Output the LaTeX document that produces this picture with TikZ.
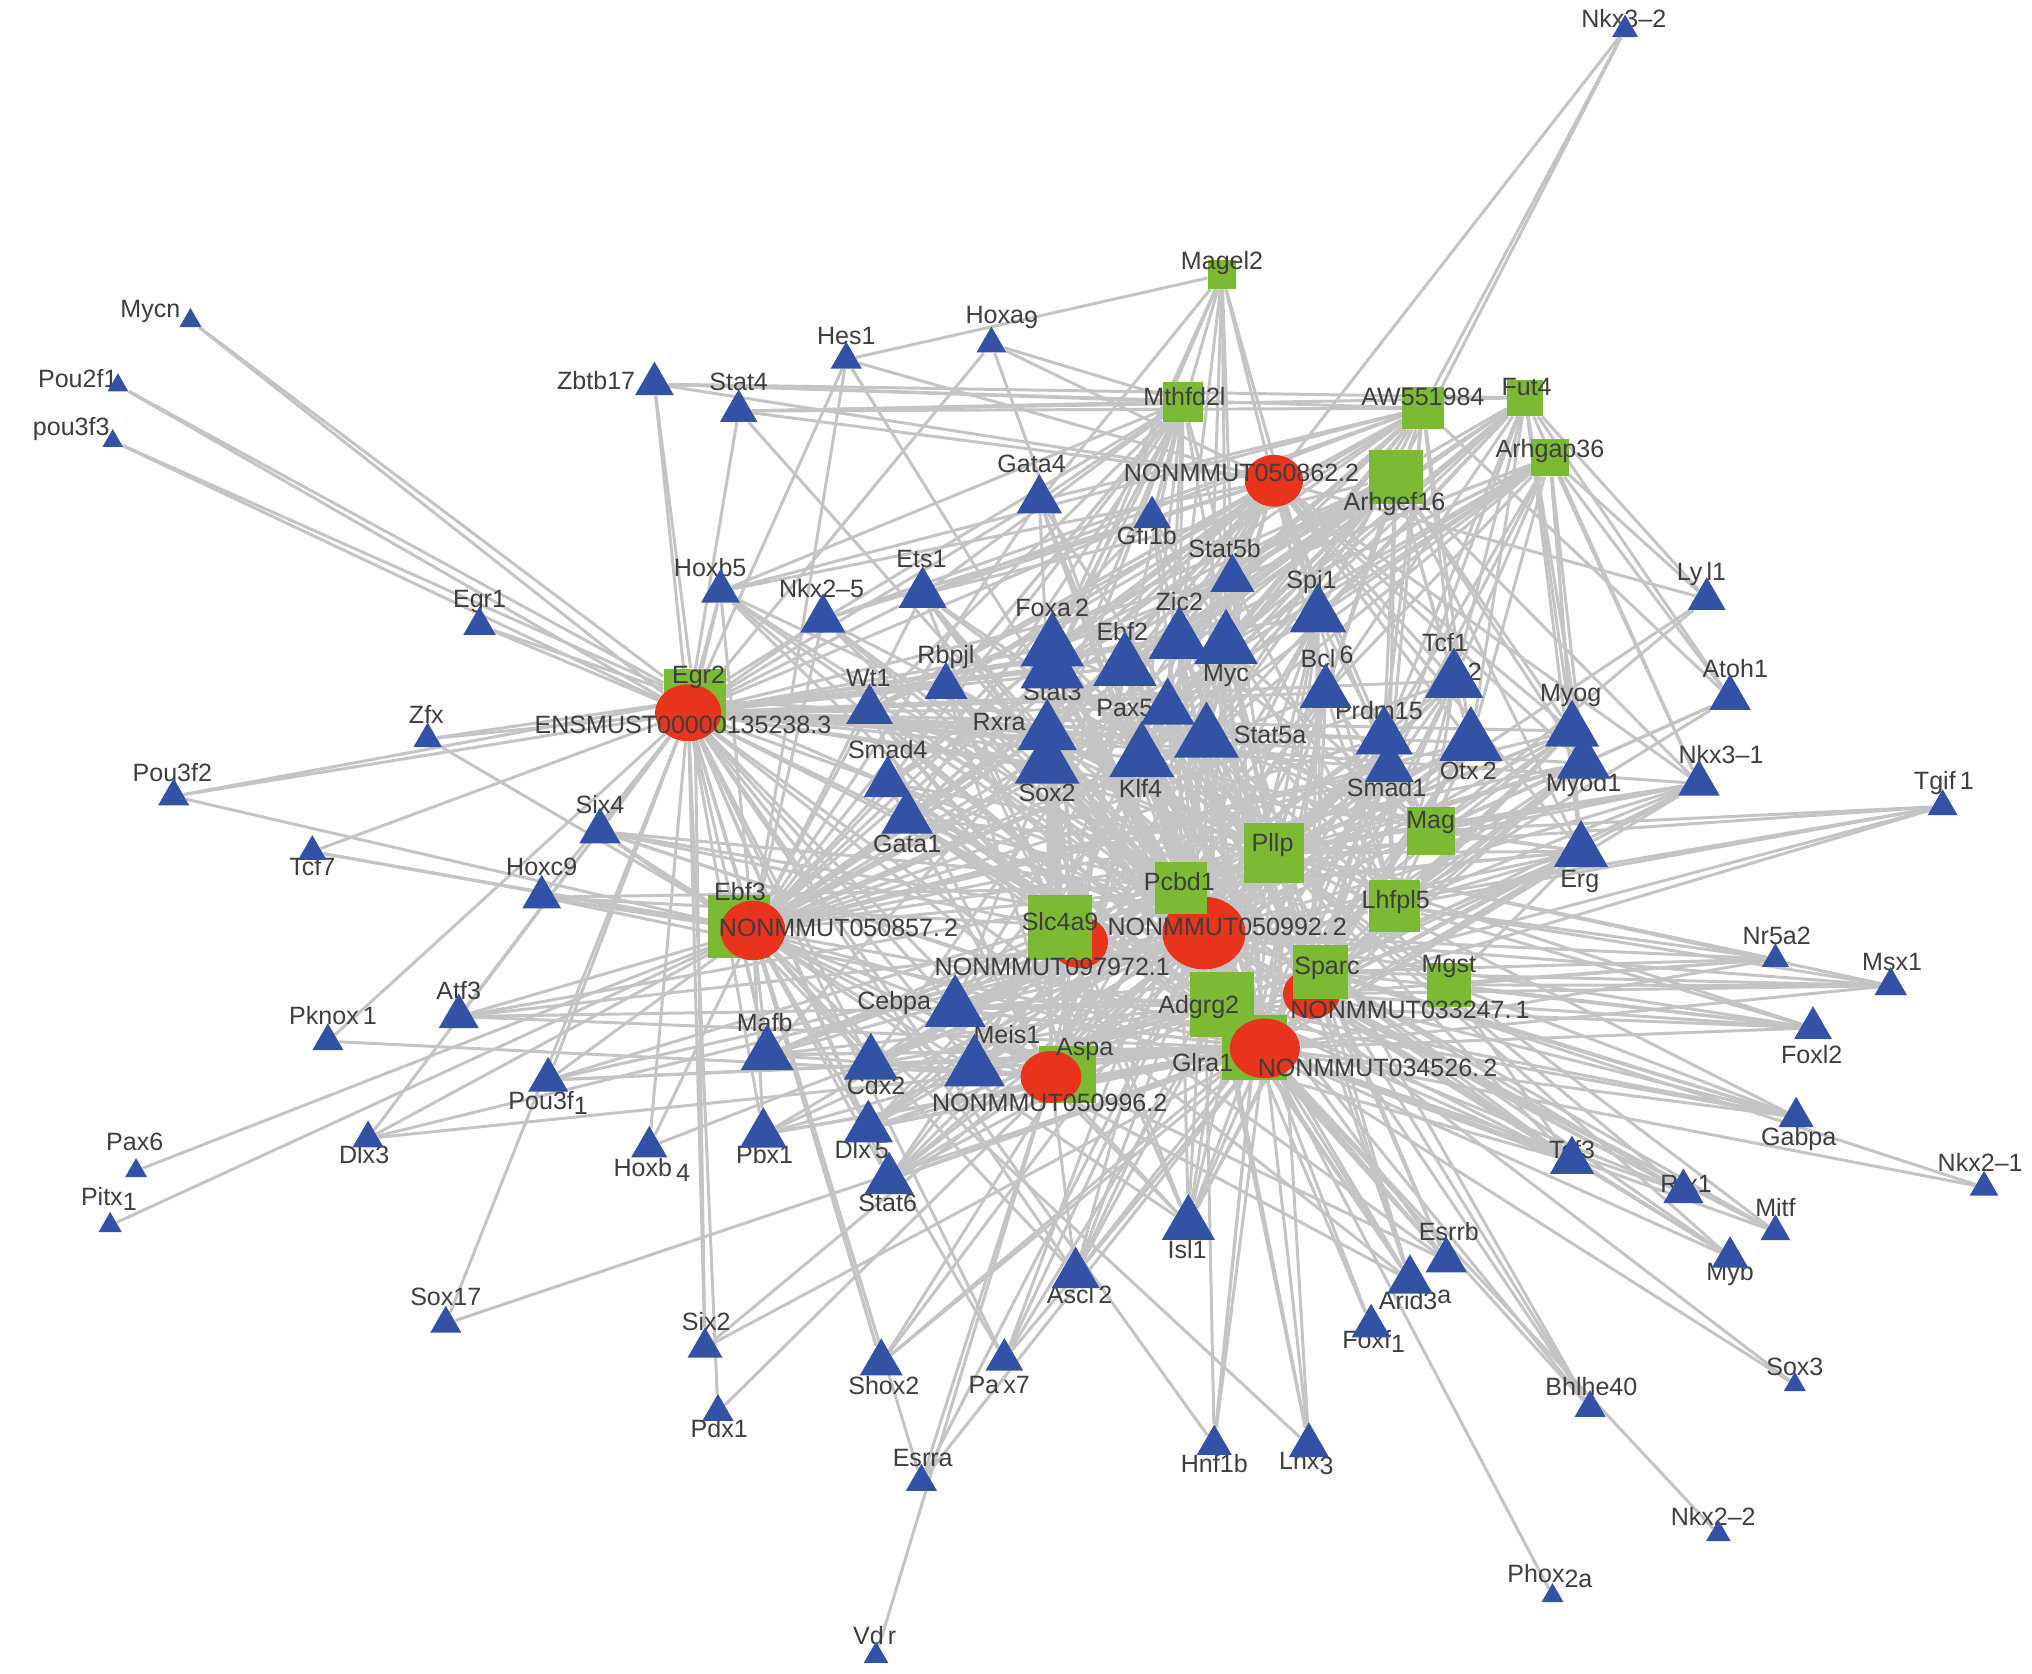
\documentclass[tikz,border=0pt]{standalone}
\usepackage{fontspec}
\setmainfont{Liberation Sans}
\usetikzlibrary{shapes.geometric}
\definecolor{tfblue}{RGB}{52,82,165}
\definecolor{mrnagreen}{RGB}{124,186,52}
\definecolor{lncred}{RGB}{232,52,28}
\definecolor{edgegray}{RGB}{196,196,196}
\definecolor{txtgray}{RGB}{62,62,62}
\newcommand{\lowr}[1]{\raisebox{-.35ex}{#1}}
\pgfdeclarelayer{edges}
\pgfsetlayers{edges,main}
\tikzset{
    tf/.style = {regular polygon, regular polygon sides=3, fill=tfblue,
        inner sep=0pt, minimum size=#1*0.0231cm, yshift=-#1*0.00288cm},
    mrna/.style = {rectangle, fill=mrnagreen, inner sep=0pt,
        minimum size=#1*0.02cm},
    lnc/.style 2 args = {ellipse, fill=lncred, inner sep=0pt,
        minimum width=#1*0.02cm, minimum height=#2*0.02cm},
    lbl/.style = {text=txtgray, inner sep=0pt,
        font=\fontsize{11}{13}\selectfont},
    link/.style = {draw=edgegray, line width=1.3pt}
}
\begin{document}
\begin{tikzpicture}[x=0.02cm, y=-0.02cm]
\useasboundingbox (0,0) rectangle (1568,1291);
% mRNA nodes lying under the lncRNA nodes
\node[mrna=48] (egr2) at (536,540) {};
\node[mrna=48] (ebf3) at (570,715) {};
\node[mrna=44] (aspa) at (824,829) {};
\node[mrna=50] (adgrg2) at (943,775) {};
\node[mrna=50] (glra1) at (968,808) {};
\node[mrna=22] (magel2) at (943,212) {};
\node[mrna=31] (mthfd2l) at (913,310) {};
\node[mrna=32] (aw551984) at (1098,315) {};
\node[mrna=28] (fut4) at (1177,307) {};
\node[mrna=29] (arhgap36) at (1196,353) {};
\node[mrna=42] (arhgef16) at (1077,368) {};
\node[mrna=37] (mag) at (1104,641) {};
\node[mrna=46] (pllp) at (983,658) {};
\node[mrna=40] (lhfpl5) at (1076,699) {};
\node[mrna=34] (mgst) at (1118,760) {};
% lncRNA nodes
\node[lnc={51}{44}] (ens) at (531,550) {};
\node[lnc={50}{46}] (n857) at (581,718) {};
\node[lnc={44}{40}] (n972) at (833,727) {};
\node[lnc={64}{56}] (n992) at (929,720) {};
\node[lnc={45}{40}] (n862) at (983,371) {};
\node[lnc={44}{38}] (n247) at (1012,767) {};
\node[lnc={54}{46}] (n526) at (976,809) {};
\node[lnc={47}{40}] (n996) at (811,831) {};
% mRNA nodes on top
\node[mrna=40] (pcbd1) at (911,685) {};
\node[mrna=50] (slc4a9) at (818,716) {};
\node[mrna=42] (sparc) at (1019,750) {};
% hub labels
\foreach \n/\x/\y/\t in {magel2/943/203/Magel2, mthfd2l/914/306/Mthfd2l,
    aw551984/1098/306/AW551984, fut4/1178/299/Fut4, arhgap36/1196/348/Arhgap36,
    arhgef16/1076/389/Arhgef16, egr2/539/523/Egr2, ebf3/571/688/Ebf3,
    mag/1104/635/Mag, pllp/982/652/Pllp, pcbd1/910/680/Pcbd1,
    lhfpl5/1077/696/Lhfpl5, slc4a9/818/711/Slc4a9, sparc/1024/747/Sparc,
    mgst/1118/746/Mgst, adgrg2/925/777/Adgrg2, glra1/928/820/Glra1,
    aspa/837/810/Aspa, ens/527/559/ENSMUST00000135238.3,
    n857/647/716/NONMMUT050857.\,2, n972/812/746/NONMMUT097972.1,
    n992/947/715/NONMMUT050992.\,2, n862/958/365/NONMMUT050862.2,
    n247/1088/779/NONMMUT033247.\,1, n526/1063/824/NONMMUT034526.\,2,
    n996/810/851/NONMMUT050996.2}
    \node[lbl] (\n-t) at (\x,\y) {\t};
% TF labels
\foreach \n/\x/\y/\t in {nkx32/1253/14/Nkx3--2, mycn/116/240/Mycn,
    hoxa9/773/245/Hoxa\lowr{9}, hes1/653/259/Hes1, pou2f1/60/292/Pou2f1,
    zbtb17/460/294/Zbtb17, stat4/570/295/Stat4, pou3f3/55/331/pou3f3,
    gata4/796/358/Gata4, gfi1b/885/413/Gfi1b, stat5b/945/423/Stat5b,
    hoxb5/548/438/Hoxb5, ets1/711/431/Ets1, nkx25/634/454/Nkx2--5,
    spi1/1012/449/Spi1, lyl1/1313/443/Ly\,l1, egr1/370/464/Egr1,
    foxa2/812/469/Foxa\,2, zic2/910/464/Zic2, ebf2/866/487/Ebf2,
    myc/946/521/Myc, stat3/812/534/Stat3, bcl6/1024/507/Bcl\,\raisebox{.3ex}{6},
    tcf12/1115/496/Tcf1, tcf12b/1138/518/2, rbpjl/730/507/Rbpjl,
    wt1/670/523/Wt1, atoh1/1339/516/Atoh1, myog/1212/537/Myog,
    zfx/329/551/Zfx, pax5/868/546/Pax5, rxra/771/557/Rxra,
    stat5a/980/567/Stat5a, prdm15/1064/548/Prdm15, otx2/1133/595/Otx\,2,
    smad1/1070/608/Smad1, myod1/1222/606/Myod1, nkx31/1328/582/Nkx3--1,
    sox2/808/612/Sox2, klf4/880/608/Klf4, smad4/685/578/Smad4,
    pou3f2/133/596/Pou3f2, tgif1/1500/604/Tgif\,1, six4/463/621/Six4,
    gata1/700/651/Gata1, erg/1219/680/Erg, tcf7/241/669/Tcf7,
    hoxc9/418/669/Hoxc9, nr5a2/1371/722/Nr5a2, msx1/1460/742/Msx1,
    cebpa/690/774/Cebpa, atf3/354/764/Atf3, pknox1/257/784/Pknox\,1,
    mafb/590/789/Mafb, foxl2/1398/814/Foxl2, meis1/777/798/Meis1,
    cdx2/676/838/Cdx2, pou3f1/423/851/Pou3f\lowr{1}, gabpa/1388/879/Gabpa,
    dlx3/281/891/Dlx3, pbx1/590/891/Pbx1, dlx5/665/887/Dlx\,5,
    hoxb4/503/903/Hoxb\,\lowr{4}, tcf3/1213/887/Tcf3, pax6/104/881/Pax6,
    stat6/685/928/Stat6, nkx21/1528/897/Nkx2--1, rfx1/1301/913/Rfx1,
    mitf/1370/932/Mitf, pitx1/84/925/Pitx\lowr{1}, isl1/916/964/Isl1,
    esrrb/1118/950/Esrrb, myb/1335/983/Myb, ascl2/833/999/Ascl\,2,
    arid3a/1092/1003/Arid3\raisebox{.5ex}{a}, foxf1/1060/1035/Foxf\lowr{1},
    sox17/344/1001/Sox17, six2/545/1020/Six2, shox2/682/1069/Shox2,
    pax7/771/1069/Pa\,x7, sox3/1385/1055/Sox3, bhlhe40/1228/1070/Bhlhe40,
    pdx1/555/1102/Pdx1, hnf1b/937/1129/Hnf1b, lhx3/1008/1129/Lhx\lowr{3},
    esrra/712/1125/Esrra, nkx22/1322/1170/Nkx2--2, phox2a/1196/1216/Phox\lowr{2a},
    vdr/675/1262/Vd\,r}
    \node[lbl] (\n-t) at (\x,\y) {\t};
% TF nodes
\foreach \n/\x/\y/\w in {nkx32/1254/20/20, mycn/147/245/17, hoxa9/765/262/23,
    hes1/653/274/24, pou2f1/91/295/16, zbtb17/505/292/30, stat4/570/313/29,
    pou3f3/87/338/16, gata4/802/381/35, gfi1b/889/395/29, stat5b/951/442/34,
    hoxb5/556/452/30, ets1/712/453/37, nkx25/635/473/35, spi1/1017/469/44,
    lyl1/1317/458/29, egr1/370/479/25, foxa2/812/493/49, zic2/910/488/47,
    ebf2/868/508/49, myc/946/491/49, stat3/812/510/49, bcl6/1023/529/40,
    tcf12/1122/519/45, rbpjl/730/525/33, wt1/671/543/36, atoh1/1335/534/32,
    myog/1213/558/42, zfx/330/567/22, pax5/901/541/42, rxra/808/559/46,
    stat5a/931/563/50, prdm15/1068/563/44, otx2/1135/566/49, smad1/1072/587/38,
    myod1/1222/583/41, nkx31/1311/600/32, sox2/808/583/50, klf4/881/578/50,
    smad4/685/599/37, pou3f2/134/611/24, tgif1/1499/619/23, six4/463/637/32,
    gata1/700/626/40, erg/1220/651/42, tcf7/241/654/22, hoxc9/418/688/30,
    nr5a2/1370/737/21, msx1/1459/757/25, cebpa/737/772/47, atf3/354/780/31,
    pknox1/253/800/24, mafb/592/808/41, foxl2/1399/789/29, meis1/752/818/47,
    cdx2/672/815/42, pou3f1/423/829/31, gabpa/1386/858/27, dlx3/284/875/24,
    pbx1/589/870/36, dlx5/670/865/38, hoxb4/501/881/28, tcf3/1213/891/34,
    pax6/105/901/17, stat6/686/905/38, nkx21/1531/913/22, rfx1/1299/915/31,
    mitf/1370/947/23, pitx1/85/943/18, isl1/917/939/41, esrrb/1116/968/32,
    myb/1335/966/28, ascl2/830/978/37, arid3a/1088/983/35, foxf1/1058/1019/30,
    sox17/344/1018/24, six2/544/1036/27, shox2/680/1047/33, pax7/775/1045/29,
    sox3/1385/1066/17, bhlhe40/1227/1083/24, pdx1/554/1086/24,
    hnf1b/937/1111/27, lhx3/1010/1111/31, esrra/711/1140/24,
    nkx22/1326/1181/19, phox2a/1198/1229/17, vdr/676/1275/19}
    \node[tf=\w] (\n) at (\x,\y) {};
% co-expression links
\begin{pgfonlayer}{edges}
\fill[white] (0,0) rectangle (1568,1291);
\foreach \a/\bs in {nkx32/{n862,aw551984,arhgef16}, mycn/{ens,egr2},
    pou2f1/{ens,egr2}, pou3f3/{ens,egr2}, egr1/{ens,egr2},
    zfx/{ens,egr2,n857}, pou3f2/{ens,egr2,n857}, tcf7/{ens,ebf3,n857},
    zbtb17/{ens,egr2,mthfd2l,aw551984,n862},
    stat4/{ens,mthfd2l,aw551984,n862,n992},
    hes1/{magel2,ens,n992,n857}, hoxa9/{ens,n992,n862,mthfd2l},
    gata4/{magel2,mthfd2l,ens,n992,n857,n526,pllp,pcbd1,slc4a9},
    gfi1b/{magel2,mthfd2l,n992,n526,pllp,ens,n857,lhfpl5},
    stat5b/{magel2,aw551984,arhgef16,n862,n992,n857,ens,pllp,pcbd1,lhfpl5,n526},
    hoxb5/{ens,egr2,n992,pllp,n972,n857,n526,pcbd1},
    nkx25/{ens,egr2,n862,aw551984,n992,adgrg2,pllp,pcbd1,n857,n526},
    ets1/{ens,n862,mthfd2l,n857,n992,pllp,lhfpl5,pcbd1,slc4a9,n526,adgrg2},
    spi1/{magel2,fut4,aw551984,n862,ens,n857,n992,n526,pllp,mag,lhfpl5,pcbd1,adgrg2,sparc,n247,n996},
    lyl1/{fut4,arhgap36,n992,mag,n862},
    foxa2/{mthfd2l,n862,ens,n857,n992,n526,pllp,sparc,mag,pcbd1,slc4a9,adgrg2,glra1,n972,n996,n247},
    zic2/{magel2,arhgef16,n862,ens,n857,n992,n526,adgrg2,pllp,mag,lhfpl5,pcbd1,sparc,n247,n996},
    ebf2/{fut4,mthfd2l,n862,ens,n857,n992,n526,pcbd1,pllp,lhfpl5,slc4a9,sparc,glra1,n972,n996},
    myc/{arhgap36,aw551984,n862,ens,n857,n992,n526,glra1,pllp,mag,pcbd1,adgrg2,sparc,n247,n996},
    stat3/{mthfd2l,aw551984,n862,ens,n857,n992,n526,slc4a9,pllp,pcbd1,adgrg2,glra1,n972,n996,aspa},
    bcl6/{arhgap36,aw551984,n862,ens,n857,n992,n526,lhfpl5,pllp,mag,pcbd1,adgrg2,glra1,n247,n996,n972},
    tcf12/{arhgap36,fut4,n862,ens,n857,n992,n526,mag,pllp,lhfpl5,pcbd1,sparc,adgrg2,n247,n996},
    rbpjl/{ens,n857,n992,n862,mthfd2l,aspa,pllp,pcbd1,slc4a9,adgrg2,n526,n972},
    wt1/{ens,egr2,n857,n992,n862,pllp,pcbd1,slc4a9,glra1,n972,n996,n526},
    atoh1/{arhgap36,fut4,aw551984,n992,mag,lhfpl5},
    myog/{arhgap36,fut4,ens,n992,n857,pllp,sparc,mag,lhfpl5,pcbd1,adgrg2,n247,n526},
    pax5/{arhgef16,n862,ens,n857,n992,n526,mgst,pllp,mag,pcbd1,slc4a9,sparc,glra1,n247,n996},
    rxra/{mthfd2l,n862,ens,n857,n992,n526,n996,pllp,pcbd1,adgrg2,sparc,glra1,n972,aspa},
    stat5a/{arhgef16,n862,ens,n857,n992,n526,n247,pllp,mag,lhfpl5,pcbd1,adgrg2,glra1,n996,n972},
    prdm15/{arhgap36,n862,ens,n857,n992,n526,sparc,pllp,mag,lhfpl5,pcbd1,adgrg2,glra1,n247,n996},
    otx2/{arhgap36,aw551984,ens,n857,n992,n526,n247,pllp,mag,lhfpl5,pcbd1,sparc,glra1,n996},
    smad1/{arhgap36,ens,n857,n992,n526,adgrg2,pllp,mag,lhfpl5,pcbd1,sparc,n247,n996,n972},
    myod1/{arhgap36,fut4,ens,n857,n992,mag,pllp,lhfpl5,pcbd1,sparc,adgrg2,n247,n526},
    nkx31/{arhgap36,arhgef16,ens,n992,n247,mag,pllp,lhfpl5,pcbd1,sparc,n526,n857},
    sox2/{n862,ens,n857,n992,n526,n972,aspa,pllp,pcbd1,slc4a9,adgrg2,glra1,sparc,n996},
    klf4/{arhgef16,n862,ens,n857,n992,n526,glra1,pllp,mag,pcbd1,slc4a9,adgrg2,sparc,n247,n996},
    smad4/{ens,egr2,n857,n992,n526,pllp,pcbd1,slc4a9,adgrg2,glra1,n972,n996,n862},
    tgif1/{n992,mag,lhfpl5,pllp,sparc,n247},
    six4/{ens,ebf3,n857,n992,n526,pcbd1,slc4a9,glra1},
    gata1/{ens,n857,n992,n526,n862,slc4a9,pllp,pcbd1,adgrg2,glra1,n972,n996,sparc},
    erg/{arhgef16,ens,n857,n992,mag,pllp,lhfpl5,sparc,pcbd1,adgrg2,glra1,n247,n526,mgst},
    hoxc9/{ens,ebf3,n857,n992,pcbd1,n526}, nr5a2/{n992,n247,pllp,mgst,lhfpl5,sparc,n526},
    msx1/{n992,n247,sparc,mgst,lhfpl5,pllp,n526},
    cebpa/{ens,n857,n992,n526,n972,pllp,sparc,pcbd1,adgrg2,glra1,n247,n996,aspa,lhfpl5},
    atf3/{ens,n857,n992,n526,pcbd1,adgrg2}, pknox1/{ens,n996},
    mafb/{ens,ebf3,n857,n992,n526,n996,pllp,pcbd1,slc4a9,adgrg2,glra1,n972},
    foxl2/{n992,n247,n526,pllp,mgst,sparc,lhfpl5,adgrg2},
    meis1/{ens,n857,n992,n526,n862,pllp,pcbd1,adgrg2,glra1,n247,n996,sparc},
    cdx2/{ens,ebf3,n857,n992,n526,n996,pllp,pcbd1,slc4a9,adgrg2,glra1,n972},
    pou3f1/{ens,n857,n992,n526,pcbd1,glra1},
    gabpa/{n992,n526,sparc,n857,mgst,pllp,n247,adgrg2}, dlx3/{n857,n992,glra1,ens},
    pbx1/{ens,n857,n992,n526,pcbd1,adgrg2,glra1},
    dlx5/{ens,n857,n992,n526,pllp,pcbd1,slc4a9,adgrg2,glra1,n996,n972},
    hoxb4/{ens,n857,n992},
    tcf3/{ens,n857,n992,n526,pllp,sparc,pcbd1,adgrg2,glra1,n247,mgst},
    pax6/{n857},
    stat6/{ens,n857,n992,n526,pllp,pcbd1,slc4a9,adgrg2,glra1,n996,n972},
    nkx21/{n526,n992}, rfx1/{n526,n992,n247,sparc,pllp,adgrg2},
    mitf/{n526,n992,pllp,sparc,n247}, pitx1/{n857},
    isl1/{ens,n857,n992,n526,n996,pllp,pcbd1,slc4a9,adgrg2,glra1,sparc,n247,n972},
    esrrb/{ens,n857,n992,n526,pllp,sparc,adgrg2,glra1},
    myb/{n526,n992,n247,sparc,pllp},
    ascl2/{ens,n857,n992,n526,n996,pllp,adgrg2,glra1,pcbd1},
    arid3a/{n857,n992,n526,n247,pllp,sparc,adgrg2,glra1,ens},
    foxf1/{n992,n526}, sox17/{ens,n526},
    six2/{ens,egr2,n992,n526}, shox2/{n857,n992,n526,pcbd1,glra1,ens},
    pax7/{ens,n857,n992,n526,pcbd1,adgrg2}, sox3/{n526,n992},
    bhlhe40/{n526,n992,n247,sparc,pllp},
    pdx1/{ens,n992}, hnf1b/{ens,n992,n526,pllp,glra1},
    lhx3/{n857,n992,n526,pllp,adgrg2},
    esrra/{ens,n992,n996,n526}, nkx22/{n526}, phox2a/{n526}, vdr/{n996}}
    \foreach \b in \bs {\draw[link] (\a) -- (\b);}
% links of the upper hubs
\foreach \a/\bs in {n862/{ets1,nkx25,hoxb5,wt1,rbpjl,smad4,gata1,cebpa,cdx2,mafb,myog,myod1,erg,nkx31,hes1,smad1,otx2},
    arhgef16/{foxa2,ebf2,myc,stat3,rxra,sox2,pax5,bcl6,tcf12,prdm15,smad1,otx2,wt1,ets1,gata1,smad4,cebpa,myog,myod1,zic2},
    aw551984/{ebf2,zic2,foxa2,pax5,klf4,stat5a,prdm15,smad1,tcf12,wt1,rbpjl,ets1,gata4,hoxb5},
    fut4/{zic2,myc,pax5,stat5a,klf4,otx2,prdm15,bcl6,smad1,erg,nkx31,zbtb17,stat4,stat3},
    arhgap36/{zic2,ebf2,stat5a,pax5,klf4,erg,spi1,stat5b,foxa2,sox2},
    mthfd2l/{zic2,myc,pax5,klf4,sox2,smad4,wt1,rbpjl,gata1,cebpa,nkx25,hoxb5,stat5b},
    magel2/{foxa2,myc,stat5a,bcl6,stat3}}
    \foreach \b in \bs {\draw[link] (\b) -- (\a);}
\end{pgfonlayer}
\end{tikzpicture}
\end{document}
